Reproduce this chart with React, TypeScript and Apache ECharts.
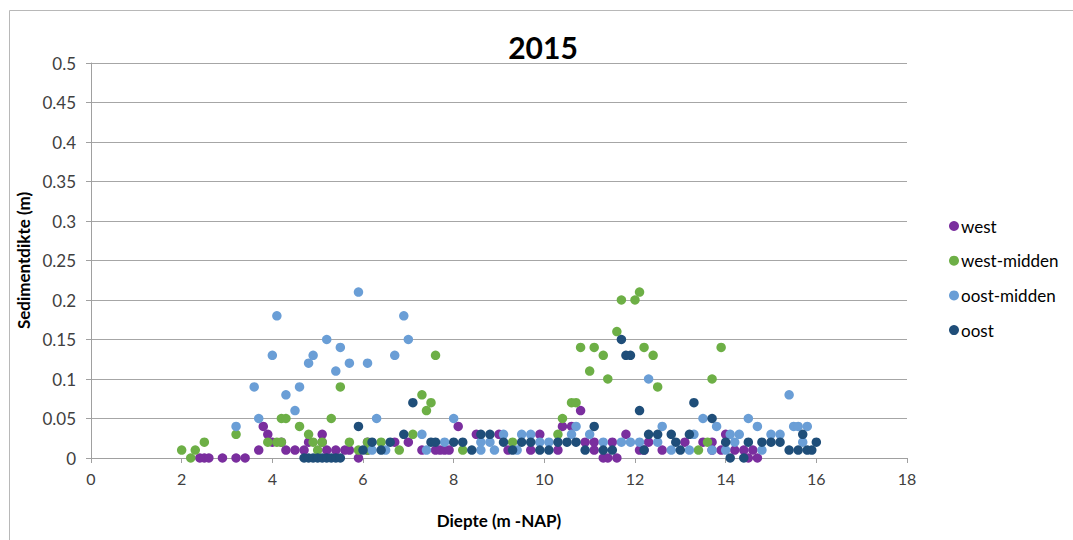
import React, { useEffect, useRef } from "react";
import * as echarts from "echarts";

const seriesNames = ["west", "west-midden", "oost-midden", "oost"];
const seriesColors = ["#7A2E9E", "#6DAF46", "#6A9ED6", "#1F4E79"];

// west (purple)
const westData: [number, number][] = [
  [2.4, 0], [2.5, 0], [2.6, 0], [2.9, 0], [3.2, 0], [3.4, 0], [5.9, 0], [11.3, 0], [11.4, 0], [11.6, 0], [14.5, 0], [14.7, 0],
  [3.7, 0.01], [4.3, 0.01], [4.5, 0.01], [4.7, 0.01], [5.2, 0.01], [5.4, 0.01], [5.6, 0.01], [5.7, 0.01], [6.1, 0.01],
  [7.3, 0.01], [7.6, 0.01], [7.7, 0.01], [7.8, 0.01], [7.9, 0.01], [9.2, 0.01], [9.7, 0.01], [10.3, 0.01], [11.1, 0.01],
  [12.1, 0.01], [12.2, 0.01], [12.6, 0.01], [13.7, 0.01], [13.9, 0.01], [14.2, 0.01], [14.4, 0.01], [14.6, 0.01],
  [4.0, 0.02], [4.2, 0.02], [4.8, 0.02], [5.1, 0.02], [6.1, 0.02], [6.7, 0.02], [7.0, 0.02], [10.9, 0.02], [11.1, 0.02],
  [11.5, 0.02], [12.3, 0.02], [13.1, 0.02], [13.5, 0.02], [13.7, 0.02],
  [3.9, 0.03], [5.1, 0.03], [8.5, 0.03], [9.0, 0.03], [9.9, 0.03], [11.8, 0.03], [14.0, 0.03],
  [3.8, 0.04], [8.1, 0.04], [10.4, 0.04], [10.6, 0.04],
  [10.8, 0.06],
];

// west-midden (green)
const westMiddenData: [number, number][] = [
  [2.2, 0],
  [2.0, 0.01], [2.3, 0.01], [5.0, 0.01], [5.9, 0.01], [6.1, 0.01], [6.8, 0.01], [8.2, 0.01], [13.4, 0.01],
  [2.5, 0.02], [3.9, 0.02], [4.1, 0.02], [4.2, 0.02], [4.9, 0.02], [5.1, 0.02], [5.7, 0.02], [6.1, 0.02], [6.4, 0.02],
  [9.3, 0.02], [13.6, 0.02],
  [3.2, 0.03], [4.8, 0.03], [7.1, 0.03], [10.3, 0.03],
  [4.6, 0.04],
  [4.2, 0.05], [4.3, 0.05], [5.3, 0.05], [10.4, 0.05],
  [7.4, 0.06],
  [7.5, 0.07], [10.6, 0.07], [10.7, 0.07],
  [7.3, 0.08],
  [5.5, 0.09], [12.5, 0.09],
  [11.4, 0.1], [13.7, 0.1],
  [11.0, 0.11],
  [7.6, 0.13], [11.3, 0.13], [12.4, 0.13],
  [10.8, 0.14], [11.1, 0.14], [12.2, 0.14], [13.9, 0.14],
  [11.6, 0.16],
  [11.7, 0.2], [12.0, 0.2],
  [12.1, 0.21],
];

// oost-midden (light blue)
const oostMiddenData: [number, number][] = [
  [6.2, 0.01], [6.5, 0.01], [7.4, 0.01], [8.6, 0.01], [8.9, 0.01], [9.4, 0.01], [12.8, 0.01], [13.2, 0.01], [13.7, 0.01],
  [14.0, 0.01], [14.8, 0.01],
  [7.8, 0.02], [8.6, 0.02], [8.8, 0.02], [9.9, 0.02], [10.1, 0.02], [11.3, 0.02], [11.7, 0.02], [11.9, 0.02], [12.1, 0.02],
  [12.5, 0.02], [14.2, 0.02], [15.7, 0.02],
  [7.3, 0.03], [9.1, 0.03], [9.5, 0.03], [9.7, 0.03], [10.6, 0.03], [11.0, 0.03], [13.3, 0.03], [14.1, 0.03], [14.3, 0.03],
  [15.0, 0.03], [15.2, 0.03],
  [3.2, 0.04], [10.7, 0.04], [12.6, 0.04], [13.8, 0.04], [14.7, 0.04], [15.5, 0.04], [15.6, 0.04], [15.8, 0.04],
  [3.7, 0.05], [6.3, 0.05], [8.0, 0.05], [13.5, 0.05], [14.5, 0.05],
  [4.5, 0.06],
  [4.3, 0.08], [15.4, 0.08],
  [3.6, 0.09], [4.6, 0.09],
  [12.3, 0.1],
  [5.4, 0.11],
  [4.8, 0.12], [5.7, 0.12], [6.1, 0.12],
  [4.0, 0.13], [4.9, 0.13], [6.7, 0.13],
  [5.5, 0.14],
  [5.2, 0.15], [7.0, 0.15],
  [4.1, 0.18], [6.9, 0.18],
  [5.9, 0.21],
];

// oost (dark blue)
const oostData: [number, number][] = [
  [4.7, 0], [4.8, 0], [4.9, 0], [5.0, 0], [5.1, 0], [5.2, 0], [5.3, 0], [5.4, 0], [5.5, 0], [14.1, 0], [14.4, 0],
  [6.0, 0.01], [6.4, 0.01], [8.4, 0.01], [9.3, 0.01], [9.9, 0.01], [10.1, 0.01], [10.9, 0.01], [11.3, 0.01], [11.5, 0.01],
  [12.2, 0.01], [13.0, 0.01], [15.4, 0.01], [15.6, 0.01], [15.8, 0.01], [15.9, 0.01],
  [6.2, 0.02], [6.6, 0.02], [7.5, 0.02], [7.6, 0.02], [8.0, 0.02], [8.2, 0.02], [9.1, 0.02], [9.5, 0.02], [9.7, 0.02],
  [10.3, 0.02], [10.5, 0.02], [10.7, 0.02], [12.9, 0.02], [14.0, 0.02], [14.5, 0.02], [14.8, 0.02], [15.0, 0.02],
  [15.2, 0.02], [16.0, 0.02],
  [6.9, 0.03], [8.6, 0.03], [8.8, 0.03], [12.3, 0.03], [12.5, 0.03], [12.8, 0.03], [13.2, 0.03], [15.7, 0.03],
  [5.9, 0.04], [11.1, 0.04],
  [13.7, 0.05],
  [12.1, 0.06],
  [7.1, 0.07], [13.3, 0.07],
  [11.8, 0.13], [11.9, 0.13],
  [11.7, 0.15],
];

const allData = [westData, westMiddenData, oostMiddenData, oostData];

const FONT = "Lato, 'Open Sans', sans-serif";

export default function App() {
  const ref = useRef<HTMLDivElement>(null);

  useEffect(() => {
    if (!ref.current) return;
    const chart = echarts.init(ref.current, undefined, { renderer: "svg" });
    chart.setOption({
      animation: false,
      backgroundColor: "#ffffff",
      textStyle: { fontFamily: FONT },
      title: {
        text: "2015",
        left: 538,
        top: 27,
        textAlign: "center",
        textStyle: { fontSize: 30, fontWeight: "bold", color: "#000000", fontFamily: FONT },
      },
      graphic: [
        {
          type: "rect",
          shape: { x: 9.5, y: 10.5, width: 1100, height: 600 },
          style: { fill: "none", stroke: "#b8b8b8", lineWidth: 1 },
          silent: true,
        },
      ],
      legend: {
        orient: "vertical",
        left: 944,
        top: 211,
        itemWidth: 10,
        itemHeight: 10,
        itemGap: 14.7,
        icon: "circle",
        data: seriesNames,
        textStyle: { fontSize: 17, lineHeight: 20, color: "#000000", fontFamily: FONT, padding: [0, 0, 0, -3] },
      },
      grid: { left: 91, right: 166, top: 63, bottom: 82 },
      xAxis: {
        type: "value",
        min: 0,
        max: 18,
        interval: 2,
        name: "Diepte (m -NAP)",
        nameLocation: "middle",
        nameGap: 54,
        nameTextStyle: { fontSize: 17, fontWeight: "bold", color: "#000000", fontFamily: FONT },
        axisLine: { show: true, lineStyle: { color: "#a0a0a0", width: 1 } },
        axisTick: { show: true, length: 5, lineStyle: { color: "#a0a0a0" } },
        axisLabel: { fontSize: 16, color: "#404040", margin: 12, fontFamily: FONT },
        splitLine: { show: false },
      },
      yAxis: {
        type: "value",
        min: 0,
        max: 0.5,
        interval: 0.05,
        name: "Sedimentdikte (m)",
        nameLocation: "middle",
        nameGap: 52,
        nameRotate: 90,
        nameTextStyle: { fontSize: 17, fontWeight: "bold", color: "#000000", fontFamily: FONT },
        axisLine: { show: true, lineStyle: { color: "#a0a0a0", width: 1 } },
        axisTick: { show: true, length: 5, inside: false, lineStyle: { color: "#a0a0a0" } },
        axisLabel: {
          fontSize: 17,
          color: "#404040",
          margin: 15,
          fontFamily: FONT,
          formatter: (v: number) => String(+v.toFixed(2)),
        },
        splitLine: { show: true, lineStyle: { color: "#a6a6a6", width: 1 } },
      },
      series: seriesNames.map((name, i) => ({
        name,
        type: "scatter",
        symbol: "circle",
        symbolSize: 9.5,
        itemStyle: { color: seriesColors[i], opacity: 1 },
        data: allData[i],
      })),
    });
    return () => chart.dispose();
  }, []);

  return (
    <div
      ref={ref}
      style={{ position: "fixed", left: 0, top: 0, width: 1073, height: 540 }}
    />
  );
}
